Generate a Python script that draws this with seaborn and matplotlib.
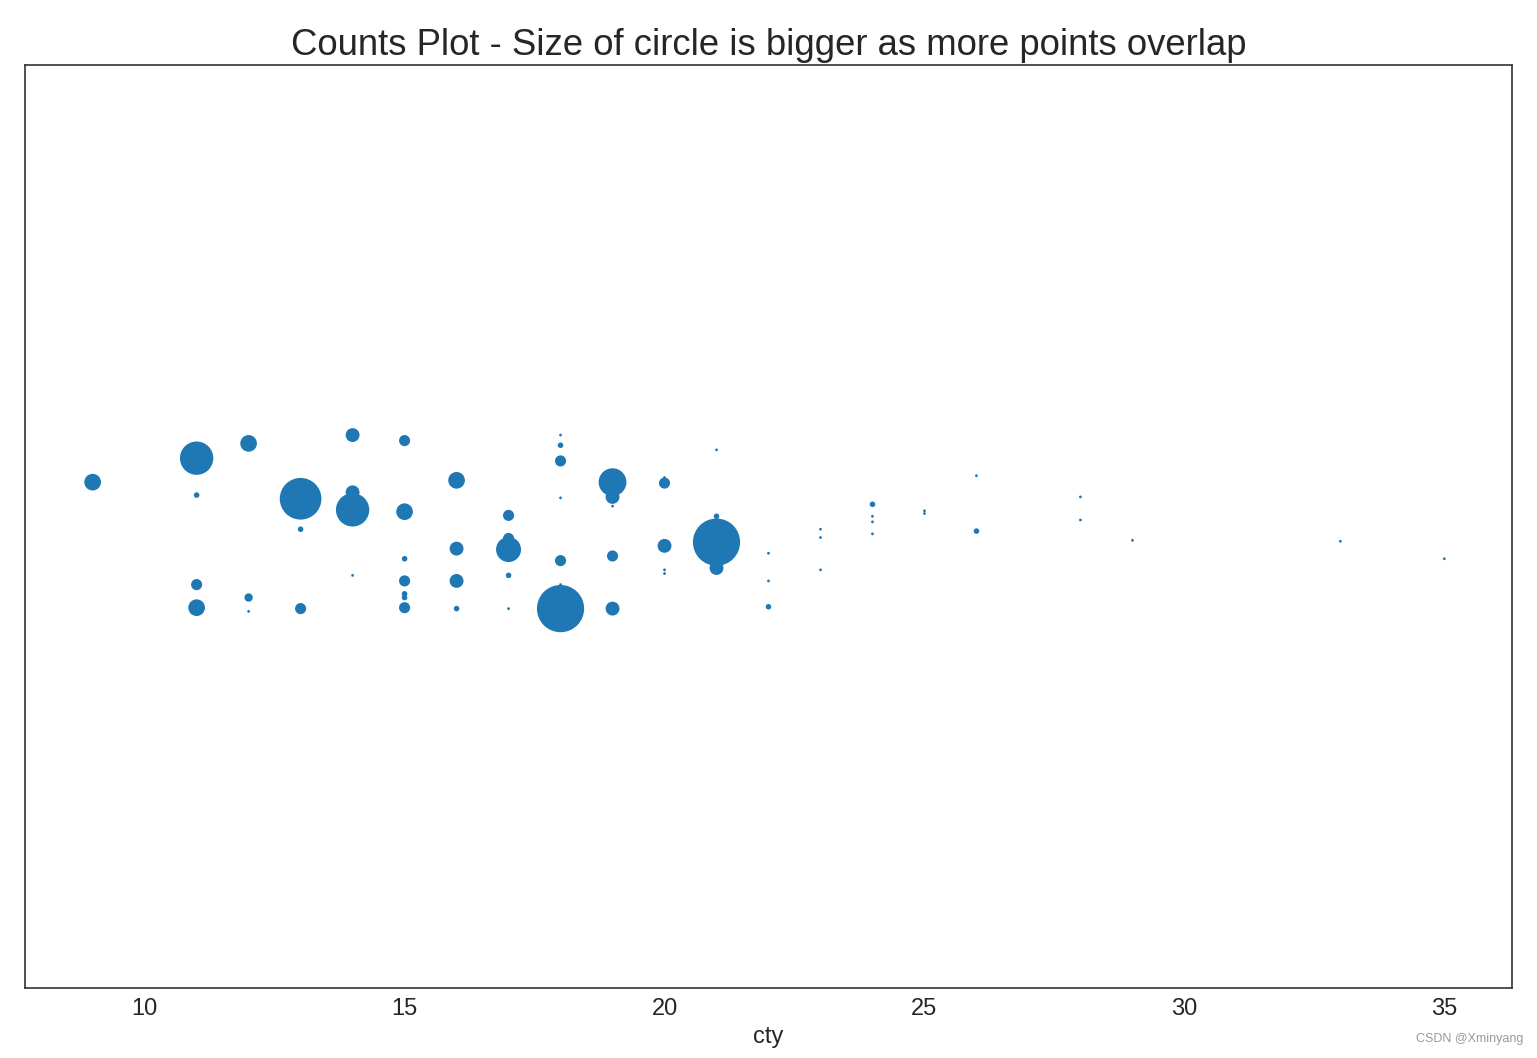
import numpy as np
import pandas as pd
import matplotlib
matplotlib.use("Agg")
import matplotlib.pyplot as plt
import seaborn as sns

# city mileage of each (cty, hwy) group
cty = [9,
       11, 11, 11, 11,
       12, 12, 12,
       13, 13, 13,
       14, 14, 14, 14,
       15, 15, 15, 15, 15, 15, 15,
       16, 16, 16, 16,
       17, 17, 17, 17, 17,
       18, 18, 18, 18, 18, 18, 18,
       19, 19, 19, 19, 19,
       20, 20, 20, 20, 20,
       21, 21, 21, 21,
       22, 22, 22,
       23, 23, 23,
       24, 24, 24, 24,
       25, 25,
       26, 26,
       28, 28,
       29, 33, 35]
# vertical jitter of each group (strip offset)
jitter = [-0.048,
          -0.074, -0.034, 0.063, 0.088,
          -0.090, 0.077, 0.092,
          -0.030, 0.003, 0.089,
          -0.099, -0.037, -0.018, 0.053,
          -0.093, -0.016, 0.035, 0.059, 0.073, 0.077, 0.088,
          -0.050, 0.024, 0.059, 0.089,
          -0.012, 0.013, 0.025, 0.053, 0.089,
          -0.099, -0.088, -0.071, -0.031, 0.037, 0.063, 0.089,
          -0.048, -0.032, -0.022, 0.032, 0.089,
          -0.053, -0.047, 0.021, 0.047, 0.051,
          -0.083, -0.011, 0.017, 0.045,
          0.029, 0.059, 0.087,
          0.003, 0.012, 0.047,
          -0.024, -0.011, -0.005, 0.008,
          -0.017, -0.014,
          -0.055, 0.005,
          -0.032, -0.007,
          0.015, 0.016, 0.035]
# number of overlapping points in each group
counts = [6,
          12, 2, 4, 6,
          6, 3, 1,
          15, 2, 4,
          5, 5, 12, 1,
          4, 6, 2, 4, 2, 2, 4,
          6, 5, 5, 2,
          4, 4, 9, 2, 1,
          1, 2, 4, 1, 4, 1, 17,
          10, 5, 1, 4, 5,
          1, 4, 5, 1, 1,
          1, 2, 17, 5,
          1, 1, 2,
          1, 1, 1,
          2, 1, 1, 1,
          1, 1,
          1, 2,
          1, 1,
          1, 1, 1]

xticks = [10, 15, 20, 25, 30, 35]

df = pd.DataFrame({"cty": cty, "jitter": jitter, "counts": counts})
# marker size = 2*counts points -> area in points^2
df["area"] = (2.0 * df["counts"]) ** 2

sns.set_theme(style="white")
plt.rcParams["font.family"] = ["Liberation Sans", "DejaVu Sans"]

fig = plt.figure(figsize=(15.37, 10.58), dpi=100)
ax = fig.add_axes([0.0163, 0.0662, 0.9674, 0.8724])

amin, amax = df["area"].min(), df["area"].max()
sns.scatterplot(data=df, x="cty", y="jitter", size="area",
                sizes=(amin, amax), size_norm=(amin, amax),
                color="#1f77b4", edgecolor="none", linewidth=0,
                alpha=1, legend=False, ax=ax)

ax.set_xlim(7.7, 36.3)
ax.set_ylim(0.5, -0.5)
ax.set_yticks([])
ax.set_ylabel("")
ax.set_xticks(xticks)
ax.set_xticklabels([str(t) for t in xticks], fontsize=17, color=".15")
ax.tick_params(axis="x", pad=1.5)
ax.set_xlabel("cty", fontsize=17, color=".15", labelpad=4)
ax.set_title("Counts Plot - Size of circle is bigger as more points overlap",
             fontsize=26.3, color=".15", pad=7.5)
for s in ax.spines.values():
    s.set_color(".2")
    s.set_linewidth(1.2)

fig.text(0.991, 0.012, "CSDN @Xminyang", ha="right", va="bottom",
         fontsize=9, color="#999999")

fig.savefig("out.png", dpi=100)
